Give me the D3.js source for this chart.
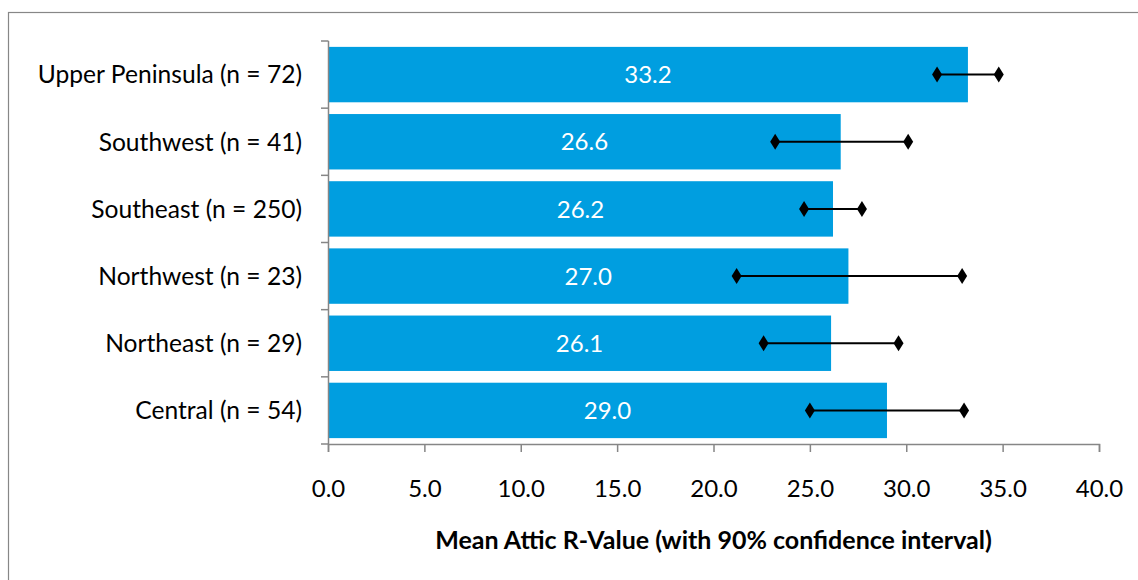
<!DOCTYPE html>
<html>
<head>
<meta charset="utf-8">
<script src="https://cdn.jsdelivr.net/npm/d3@7"></script>
<style>
  html, body { margin: 0; padding: 0; background: #fff; }
  svg { display: block; }
  text { font-family: Lato, "Open Sans", sans-serif; }
</style>
</head>
<body>
<svg id="chart" width="1138" height="580"></svg>
<script>
const categories = ["Upper Peninsula (n = 72)", "Southwest (n = 41)", "Southeast (n = 250)", "Northwest (n = 23)", "Northeast (n = 29)", "Central (n = 54)"];
const means = [33.2, 26.6, 26.2, 27.0, 26.1, 29.0];
const ciLow = [31.6, 23.2, 24.7, 21.2, 22.6, 25.0];
const ciHigh = [34.8, 30.1, 27.7, 32.9, 29.6, 33.0];
const xTicks = [0, 5, 10, 15, 20, 25, 30, 35, 40];
const xTitle = "Mean Attic R-Value (with 90% confidence interval)";

const data = categories.map((c, i) => ({ cat: c, mean: means[i], lo: ciLow[i], hi: ciHigh[i] }));

const svg = d3.select("#chart");
const W = 1138, H = 580;
const margin = { left: 328, right: W - 1099, top: 41, bottom: H - 444 };
const FS = 24;

// outer border
svg.append("rect")
  .attr("x", 8.5).attr("y", 12.5)
  .attr("width", W + 20).attr("height", H + 20)
  .attr("fill", "none").attr("stroke", "#878787").attr("stroke-width", 1.2);

const x = d3.scaleLinear().domain([0, 40]).range([margin.left, W - margin.right]);
const y = d3.scaleBand().domain(categories).range([margin.top, H - margin.bottom]).paddingInner(0.175).paddingOuter(0.0875);
const yTick = d3.scaleBand().domain(categories).range([margin.top, H - margin.bottom]);

const axisColor = "#868686";

// bars
svg.append("g").selectAll("rect").data(data).join("rect")
  .attr("x", x(0) + 1)
  .attr("y", d => y(d.cat))
  .attr("width", d => x(d.mean) - x(0) - 1)
  .attr("height", y.bandwidth())
  .attr("fill", "#009EE0");

// value labels
svg.append("g").selectAll("text").data(data).join("text")
  .attr("x", d => (x(0) + x(d.mean)) / 2)
  .attr("y", d => y(d.cat) + y.bandwidth() / 2)
  .attr("dy", "0.36em")
  .attr("text-anchor", "middle")
  .attr("fill", "#fff")
  .attr("font-size", FS)
  .text(d => d.mean.toFixed(1));

// y axis
const yAxis = svg.append("g").attr("transform", `translate(${x(0)},0)`);
yAxis.append("line").attr("x1", 0.5).attr("x2", 0.5).attr("y1", margin.top).attr("y2", H - margin.bottom)
  .attr("stroke", axisColor).attr("stroke-width", 1.5);
const yTickPos = categories.map(c => yTick(c)).concat([H - margin.bottom]);
yAxis.selectAll("line.tick").data(yTickPos).join("line").attr("class", "tick")
  .attr("x1", -7).attr("x2", 0.5).attr("y1", d => d).attr("y2", d => d)
  .attr("stroke", axisColor).attr("stroke-width", 1.5);
yAxis.selectAll("text").data(categories).join("text")
  .attr("x", -26)
  .attr("y", d => yTick(d) + yTick.bandwidth() / 2)
  .attr("dy", "0.36em")
  .attr("text-anchor", "end")
  .attr("fill", "#000")
  .attr("font-size", 24.6)
  .text(d => d);

// x axis
const xAxisG = svg.append("g").attr("transform", `translate(0,${H - margin.bottom})`)
  .call(d3.axisBottom(x).tickValues(xTicks).tickFormat(d3.format(".1f")).tickSize(8).tickPadding(28));
xAxisG.select(".domain").attr("stroke", axisColor).attr("stroke-width", 1.5);
xAxisG.selectAll(".tick line").attr("stroke", axisColor).attr("stroke-width", 1.5);
xAxisG.selectAll(".tick text").attr("font-size", FS).attr("fill", "#000").attr("font-family", "Lato, sans-serif");

// error bars
const eg = svg.append("g");
eg.selectAll("line").data(data).join("line")
  .attr("x1", d => x(d.lo)).attr("x2", d => x(d.hi))
  .attr("y1", d => y(d.cat) + y.bandwidth() / 2)
  .attr("y2", d => y(d.cat) + y.bandwidth() / 2)
  .attr("stroke", "#000").attr("stroke-width", 2);
const diamond = "M0,-8L5,0L0,8L-5,0Z";
const pts = data.flatMap(d => [{ v: d.lo, c: d.cat }, { v: d.hi, c: d.cat }]);
eg.selectAll("path").data(pts).join("path")
  .attr("d", diamond)
  .attr("transform", d => `translate(${x(d.v)},${y(d.c) + y.bandwidth() / 2})`)
  .attr("fill", "#000");

// x title
svg.append("text")
  .attr("x", (x(0) + x(40)) / 2)
  .attr("y", 549)
  .attr("text-anchor", "middle")
  .attr("font-size", 25)
  .attr("font-weight", "bold")
  .attr("fill", "#000")
  .text(xTitle);
</script>
</body>
</html>
